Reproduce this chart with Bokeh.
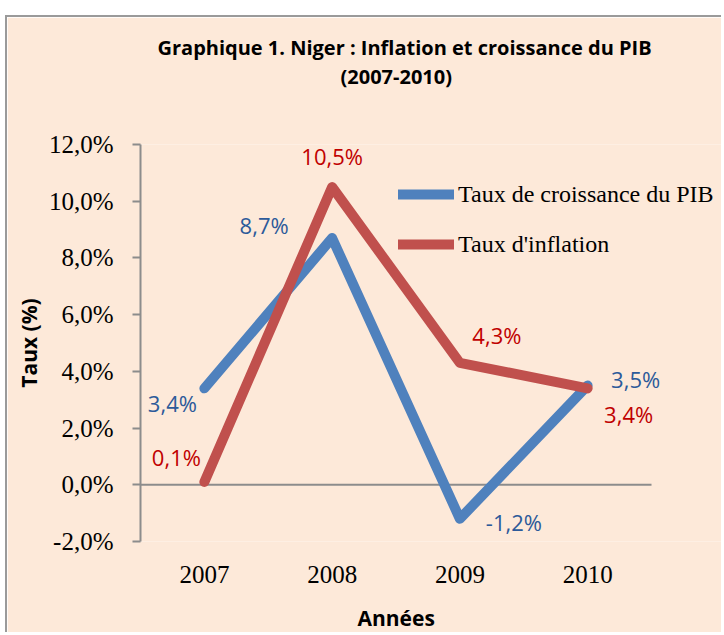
from bokeh.plotting import figure
from bokeh.models import (ColumnDataSource, Range1d, FixedTicker,
                          Legend, LegendItem, Spacer, Title)
from bokeh.layouts import column, row
from bokeh.core.properties import value
from bokeh.embed import file_html
from bokeh.resources import INLINE

# ---- data ----
years = ["2007", "2008", "2009", "2010"]
gdp_growth = [3.4, 8.7, -1.2, 3.5]      # Taux de croissance du PIB (%)
inflation = [0.1, 10.5, 4.3, 3.4]        # Taux d'inflation (%)
y_ticks = [-2, 0, 2, 4, 6, 8, 10, 12]
y_tick_labels = ["-2,0%", "0,0%", "2,0%", "4,0%", "6,0%", "8,0%", "10,0%", "12,0%"]
series_names = ["Taux de croissance du PIB", "Taux d'inflation"]
title_line1 = "Graphique 1. Niger : Inflation et croissance du PIB"
title_line2 = "(2007-2010)"
x_title = "Années"
y_title = "Taux (%)"

# ---- styles / layout (screen px) ----
BG = "#FDE9D9"
BLUE, RED = "#4F81BD", "#C0504D"
BLUE_TXT, RED_TXT = "#2C5A9A", "#C00000"
AXIS = "#8C8C8C"
gdp_dx = [-32, -68, 54, 48]
gdp_dy = [15, -13, 3, -7]
inf_dx = [-28, 0, 37, 41]
inf_dy = [-25, -31, -28, 26]

W, H = 716, 617
B_LEFT, B_RIGHT, B_TOP = 133, 0, 127
FRAME_H = 397
B_BOTTOM = H - B_TOP - FRAME_H
PX_PER_CAT = 127.75
frame_w = W - B_LEFT - B_RIGHT
x_idx = list(range(len(years)))
x_start = -0.5
x_end = x_start + frame_w / PX_PER_CAT


def fmt(v):
    return f"{v:.1f}%".replace(".", ",")


p = figure(width=W, height=H, x_range=Range1d(x_start, x_end),
           y_range=Range1d(y_ticks[0], y_ticks[-1]), output_backend="svg",
           toolbar_location=None,
           min_border_left=B_LEFT, min_border_right=B_RIGHT, min_border_top=B_TOP,
           min_border_bottom=B_BOTTOM,
           styles={"border-left": "2px solid #9a9a9a", "border-top": "2px solid #9a9a9a"})
p.background_fill_color = BG
p.border_fill_color = BG
p.outline_line_color = None
p.xgrid.grid_line_color = None
p.ygrid.grid_line_color = None

# titles (two centred lines) – a blank spacer title keeps them clear of the frame
p.add_layout(Title(text=" ", standoff=26, text_font="Open Sans",
                   text_font_size="20px"), "above")
p.add_layout(Title(text=title_line2, align="left", offset=200, standoff=0,
                   text_font="Open Sans", text_font_size="20px",
                   text_font_style="bold", text_color="#000000"), "above")
p.add_layout(Title(text=title_line1, align="left", offset=17, standoff=0,
                   text_font="Open Sans", text_font_size="20px",
                   text_font_style="bold", text_color="#000000"), "above")

# y axis
p.yaxis.ticker = FixedTicker(ticks=y_ticks)
p.yaxis.major_label_overrides = {float(k): lab for k, lab in zip(y_ticks, y_tick_labels)}
p.yaxis.major_label_text_font = "Liberation Serif"
p.yaxis.major_label_text_font_size = "25px"
p.yaxis.major_label_text_color = "#000000"
p.yaxis.major_label_standoff = 19
p.yaxis.major_tick_out = 8
p.yaxis.major_tick_in = 0
p.yaxis.minor_tick_line_color = None
p.yaxis.axis_line_color = AXIS
p.yaxis.axis_line_width = 2
p.yaxis.major_tick_line_color = AXIS
p.yaxis.major_tick_line_width = 2
p.yaxis.axis_label = y_title
p.yaxis.axis_label_text_font = "Open Sans"
p.yaxis.axis_label_text_font_style = "bold"
p.yaxis.axis_label_text_font_size = "21px"
p.yaxis.axis_label_text_color = "#000000"
p.yaxis.axis_label_standoff = 3

# x axis (category labels only)
p.xaxis.ticker = FixedTicker(ticks=x_idx)
p.xaxis.major_label_overrides = {float(i): y for i, y in zip(x_idx, years)}
p.xaxis.axis_line_color = None
p.xaxis.major_tick_line_color = None
p.xaxis.minor_tick_line_color = None
p.xaxis.major_label_text_font = "Liberation Serif"
p.xaxis.major_label_text_font_size = "25px"
p.xaxis.major_label_text_color = "#000000"
p.xaxis.major_label_standoff = 18
p.add_layout(Title(text=" ", standoff=0, text_font="Open Sans",
                   text_font_size="10px"), "below")
p.add_layout(Title(text=x_title, align="left", offset=217, standoff=0,
                   text_font="Open Sans", text_font_size="21px",
                   text_font_style="bold", text_color="#000000"), "below")

# horizontal axis line at zero, spanning the category area
p.segment(x0=[x_idx[0] - 0.5], x1=[x_idx[-1] + 0.5], y0=[0], y1=[0],
          line_color=AXIS, line_width=2)

# series
src_g = ColumnDataSource(dict(x=x_idx, y=gdp_growth, lab=[fmt(v) for v in gdp_growth],
                              dx=gdp_dx, dy=gdp_dy))
src_i = ColumnDataSource(dict(x=x_idx, y=inflation, lab=[fmt(v) for v in inflation],
                              dx=inf_dx, dy=inf_dy))

r_g = p.line("x", "y", source=src_g, line_color=BLUE, line_width=10,
             line_cap="round", line_join="round")
r_i = p.line("x", "y", source=src_i, line_color=RED, line_width=10,
             line_cap="round", line_join="round")

for src, col in ((src_g, BLUE_TXT), (src_i, RED_TXT)):
    p.text("x", "y", text="lab", source=src, x_offset="dx", y_offset="dy",
           text_font=value("Open Sans"), text_font_size="22px", text_color=col,
           text_align="center", text_baseline="middle")

legend = Legend(items=[LegendItem(label=series_names[0], renderers=[r_g]),
                       LegendItem(label=series_names[1], renderers=[r_i])],
                location=(258, 282), orientation="vertical",
                glyph_width=56, glyph_height=30, label_height=30, spacing=20,
                label_standoff=4, padding=0, margin=0,
                background_fill_alpha=0, border_line_color=None,
                label_text_font="Liberation Serif", label_text_font_size="24px",
                label_text_color="#000000")
p.add_layout(legend)

layout = column(Spacer(height=15), row(Spacer(width=5), p))
open("out.html", "w").write(file_html(layout, INLINE))
